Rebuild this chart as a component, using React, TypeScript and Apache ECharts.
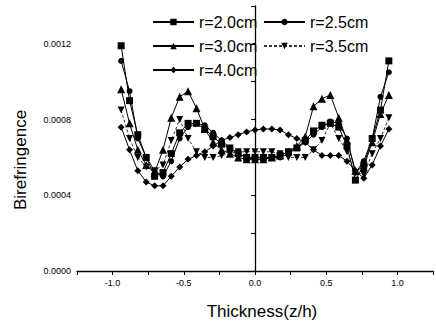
import React, { useEffect, useRef } from "react";
import * as echarts from "echarts";

const thickness = [
  -0.94, -0.881, -0.823, -0.764, -0.705, -0.646, -0.588, -0.529, -0.47, -0.411, -0.353,
  -0.294, -0.235, -0.176, -0.118, -0.059, 0, 0.059, 0.118, 0.176, 0.235, 0.294, 0.353,
  0.411, 0.47, 0.529, 0.588, 0.646, 0.705, 0.764, 0.823, 0.881, 0.94,
];

const r20 = [
  11.9e-4, 9.0e-4, 7.2e-4, 6.0e-4, 5.0e-4, 5.2e-4, 6.2e-4, 7.3e-4, 7.8e-4, 7.8e-4, 7.5e-4,
  7.1e-4, 6.7e-4, 6.5e-4, 6.2e-4, 6.0e-4, 6.0e-4, 6.0e-4, 6.0e-4, 6.1e-4, 6.3e-4, 6.5e-4,
  6.9e-4, 7.4e-4, 7.7e-4, 7.8e-4, 7.6e-4, 6.6e-4, 4.8e-4, 5.6e-4, 7.0e-4, 8.5e-4, 11.1e-4,
];
const r25 = [
  11.1e-4, 9.5e-4, 7.0e-4, 6.0e-4, 5.3e-4, 5.0e-4, 5.8e-4, 7.0e-4, 7.6e-4, 7.8e-4, 7.7e-4,
  7.3e-4, 6.9e-4, 6.5e-4, 6.2e-4, 6.0e-4, 5.9e-4, 5.9e-4, 6.0e-4, 6.0e-4, 6.2e-4, 6.5e-4,
  6.8e-4, 7.2e-4, 7.6e-4, 7.9e-4, 7.8e-4, 7.0e-4, 5.2e-4, 5.8e-4, 7.0e-4, 9.2e-4, 10.5e-4,
];
const r30 = [
  9.6e-4, 7.8e-4, 6.4e-4, 5.6e-4, 5.2e-4, 6.4e-4, 8.1e-4, 9.2e-4, 9.5e-4, 8.6e-4, 7.5e-4,
  6.8e-4, 6.4e-4, 6.2e-4, 6.0e-4, 5.9e-4, 5.9e-4, 5.9e-4, 6.0e-4, 6.1e-4, 6.3e-4, 6.6e-4,
  7.1e-4, 8.7e-4, 9.1e-4, 9.3e-4, 8.1e-4, 6.9e-4, 5.3e-4, 5.5e-4, 6.8e-4, 8.3e-4, 9.3e-4,
];
const r35 = [
  8.5e-4, 7.0e-4, 6.0e-4, 5.5e-4, 5.3e-4, 5.6e-4, 6.9e-4, 8.0e-4, 7.0e-4, 6.3e-4, 6.0e-4,
  6.0e-4, 6.1e-4, 6.2e-4, 6.3e-4, 6.3e-4, 6.3e-4, 6.3e-4, 6.3e-4, 6.2e-4, 6.0e-4, 6.0e-4,
  6.0e-4, 6.4e-4, 6.9e-4, 7.8e-4, 7.0e-4, 6.3e-4, 5.2e-4, 5.1e-4, 6.2e-4, 7.0e-4, 8.1e-4,
];
const r40 = [
  7.6e-4, 6.4e-4, 5.3e-4, 4.7e-4, 4.5e-4, 4.5e-4, 5.0e-4, 5.5e-4, 5.9e-4, 6.1e-4, 6.3e-4,
  6.6e-4, 6.9e-4, 7.05e-4, 7.2e-4, 7.35e-4, 7.45e-4, 7.5e-4, 7.5e-4, 7.45e-4, 7.2e-4, 7.0e-4,
  6.8e-4, 6.4e-4, 6.1e-4, 6.1e-4, 6.1e-4, 5.8e-4, 5.3e-4, 4.9e-4, 5.6e-4, 6.6e-4, 7.5e-4,
];

const seriesNames = ["r=2.0cm", "r=2.5cm", "r=3.0cm", "r=3.5cm", "r=4.0cm"];
const xTitle = "Thickness(z/h)";
const yTitle = "Birefringence";

const FONT = "'Liberation Sans', Arial, sans-serif";

export default function App() {
  const ref = useRef<HTMLDivElement>(null);
  useEffect(() => {
    if (!ref.current) return;
    const chart = echarts.init(ref.current, null, { renderer: "svg" });
    const pair = (vals: number[]) => thickness.map((z, i) => [z, vals[i]]);
    const mk = (
      name: string,
      vals: number[],
      symbol: string,
      size: number,
      dashed = false
    ) => ({
      name,
      type: "line",
      data: pair(vals),
      symbol,
      symbolSize: size,
      itemStyle: { color: "#000" },
      lineStyle: { color: dashed ? "#333" : "#000", width: 1, type: dashed ? [3, 2] : "solid" },
      z: 3,
    });
    const legendBase = {
      orient: "horizontal",
      padding: 0,
      itemWidth: 41,
      itemHeight: 8,
      itemGap: 0,
      textStyle: { fontSize: 16, fontFamily: FONT, color: "#000" },
      selectedMode: false,
    };
    chart.setOption({
      animation: false,
      backgroundColor: "#fff",
      grid: { left: 77, right: 1, top: 6, bottom: 57, containLabel: false },
      legend: [
        { ...legendBase, data: [seriesNames[0]], left: 152, top: 14 },
        { ...legendBase, data: [seriesNames[1]], left: 263, top: 14 },
        { ...legendBase, data: [seriesNames[2]], left: 152, top: 38 },
        { ...legendBase, data: [seriesNames[3]], left: 263, top: 38 },
        { ...legendBase, data: [seriesNames[4]], left: 152, top: 62 },
      ],
      xAxis: {
        type: "value",
        min: -1.25,
        max: 1.25,
        interval: 0.25,
        axisLine: { show: true, lineStyle: { color: "#000", width: 1.3 } },
        axisTick: { show: true, inside: false, length: 4, lineStyle: { color: "#000", width: 1 } },
        splitLine: { show: false },
        axisLabel: {
          color: "#000",
          fontSize: 9,
          fontFamily: FONT,
          margin: 7,
          formatter: (v: number) =>
            Math.abs(v * 2 - Math.round(v * 2)) < 1e-6 && Math.abs(v) < 1.2 ? v.toFixed(1) : "",
        },
      },
      yAxis: {
        type: "value",
        min: 0,
        max: 0.0014,
        interval: 0.0002,
        axisLine: { show: true, lineStyle: { color: "#000", width: 1.3 } },
        axisTick: { show: true, inside: false, length: 4, lineStyle: { color: "#000", width: 1 } },
        splitLine: { show: false },
        axisLabel: {
          color: "#000",
          fontSize: 9,
          fontFamily: FONT,
          margin: 6,
          formatter: (v: number) => {
            const k = v / 0.0004;
            return Math.abs(k - Math.round(k)) < 1e-6 ? v.toFixed(4) : "";
          },
        },
      },
      graphic: [
        {
          type: "text",
          x: 20,
          y: 160,
          rotation: Math.PI / 2,
          style: {
            text: yTitle,
            fontSize: 17,
            fontFamily: FONT,
            fill: "#000",
            align: "center",
            verticalAlign: "middle",
          },
        },
        {
          type: "text",
          x: 262,
          y: 311,
          style: {
            text: xTitle,
            fontSize: 17,
            fontFamily: FONT,
            fill: "#000",
            align: "center",
            verticalAlign: "middle",
          },
        },
      ],
      series: [
        mk(seriesNames[0], r20, "rect", 7),
        mk(seriesNames[1], r25, "circle", 6),
        mk(seriesNames[2], r30, "triangle", 8),
        mk(seriesNames[3], r35, "path://M0,0 L10,0 L5,9 Z", 7, true),
        mk(seriesNames[4], r40, "diamond", 7),
      ],
    });
    return () => chart.dispose();
  }, []);
  return (
    <div
      ref={ref}
      style={{ position: "fixed", left: 0, top: 0, width: 436, height: 328 }}
    />
  );
}
